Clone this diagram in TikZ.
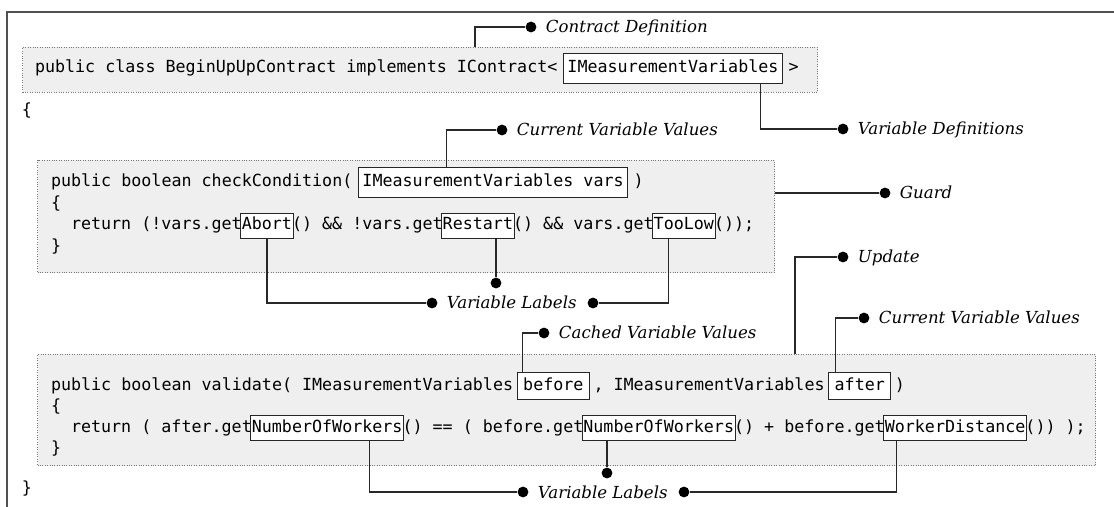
\documentclass[tikz,border=0pt]{standalone}
\usepackage{fontspec}
\usetikzlibrary{positioning}

\newfontfamily\codefam{DejaVu Sans Mono}
\newfontfamily\notefam{DejaVu Serif}

\definecolor{codebg}{RGB}{239,239,239}
\definecolor{codeline}{RGB}{120,120,120}
\definecolor{framecol}{RGB}{80,80,80}
\definecolor{leadcol}{RGB}{40,40,40}

\begin{document}
\begin{tikzpicture}[x=0.25mm, y=-0.25mm,
    codetext/.style={font=\codefam\fontsize{11.87}{14}\selectfont\frenchspacing,
      inner sep=0pt, outer sep=0pt, text height=3mm, text depth=1mm},
    codebox/.style={draw=codeline, densely dotted, line width=0.25mm, fill=codebg,
      anchor=north west, inner sep=0pt},
    pbox/.style={codetext, draw=black!85, solid, fill=white, line width=0.25mm,
      inner xsep=1mm, inner ysep=1.75mm},
    vbox/.style={pbox, inner xsep=1.5mm, inner ysep=1.25mm},
    gbox/.style={pbox, inner xsep=0.25mm, inner ysep=1.1mm},
    bullet/.style={circle, fill=black, inner sep=0pt, minimum size=2.7mm},
    tag/.style={font=\notefam\itshape\fontsize{11.8}{14}\selectfont,
      inner sep=0pt, text height=3mm, text depth=0mm, anchor=west},
    leader/.style={draw=leadcol, line width=0.3mm}]

  \useasboundingbox (0,0) rectangle (1114,507);
  \draw[framecol, line width=0.5mm] (7,507) -- (7,12) -- (1114,12);

  % code areas
  \node[codebox, minimum width=198.75mm, minimum height=11.25mm] (cls) at (22,47) {};
  \node[codebox, minimum width=184.25mm, minimum height=28mm] (grd) at (37,160) {};
  \node[codebox, minimum width=264.5mm, minimum height=27.75mm] (val) at (37,354) {};

  % class header
  \node[codetext, anchor=west] (c1) at (35,69) {public class BeginUpUpContract implements IContract<};
  \node[pbox, right=1.5125mm of c1] (imv) {IMeasurementVariables};
  \node[codetext, right=1.5125mm of imv] (c2) {>};
  \node[codetext, anchor=west] (ob) at (22,112) {\{};

  % guard
  \node[codetext, anchor=west] (g1) at (51,183) {public boolean checkCondition(};
  \node[pbox, right=1.5125mm of g1] (vars) {IMeasurementVariables vars};
  \node[codetext, right=1.5125mm of vars] (g2) {)};
  \node[codetext, anchor=west] (g3) at (51,204.5) {\{};
  \node[codetext, anchor=west] (g4) at (71,226) {return (!vars.get};
  \node[gbox, right=-0.25mm of g4] (abort) {Abort};
  \node[codetext, right=-0.25mm of abort] (g5) {() \&\& !vars.get};
  \node[gbox, right=-0.25mm of g5] (restart) {Restart};
  \node[codetext, right=-0.25mm of restart] (g6) {() \&\& vars.get};
  \node[gbox, right=-0.25mm of g6] (toolow) {TooLow};
  \node[codetext, right=-0.25mm of toolow] (g7) {());};
  \node[codetext, anchor=west] (g8) at (51,247.5) {\}};

  % update
  \node[codetext, anchor=west] (v1) at (51,386) {public boolean validate( IMeasurementVariables};
  \node[vbox, right=1.0125mm of v1] (before) {before};
  \node[codetext, right=1.0125mm of before] (v2) {, IMeasurementVariables};
  \node[vbox, right=1.0125mm of v2] (after) {after};
  \node[codetext, right=1.0125mm of after] (v3) {)};
  \node[codetext, anchor=west] (v4) at (51,407) {\{};
  \node[codetext, anchor=west] (v5) at (71,428) {return ( after.get};
  \node[gbox, right=-0.25mm of v5] (now1) {NumberOfWorkers};
  \node[codetext, right=-0.25mm of now1] (v6) {() == ( before.get};
  \node[gbox, right=-0.25mm of v6] (now2) {NumberOfWorkers};
  \node[codetext, right=-0.25mm of now2] (v7) {() + before.get};
  \node[gbox, right=-0.25mm of v7] (wd) {WorkerDistance};
  \node[codetext, right=-0.25mm of wd] (v8) {()) );};
  \node[codetext, anchor=west] (v9) at (51,449) {\}};
  \node[codetext, anchor=west] (cb) at (22,489) {\}};

  % annotations
  \node[bullet] (dCD) at (531,27) {};
  \node[tag, right=2.25mm of dCD] (tCD) {Contract Definition};
  \node[bullet] (dVD) at (843,129) {};
  \node[tag, right=2.25mm of dVD] (tVD) {Variable Definitions};
  \node[bullet] (dCVV) at (502,130) {};
  \node[tag, right=2.25mm of dCVV] (tCVV) {Current Variable Values};
  \node[bullet] (dG) at (885,193) {};
  \node[tag, right=2.25mm of dG] (tG) {Guard};
  \node[bullet] (dU) at (843,257) {};
  \node[tag, right=2.25mm of dU] (tU) {Update};
  \node[bullet] (dCV) at (544,333) {};
  \node[tag, right=2.25mm of dCV] (tCV) {Cached Variable Values};
  \node[bullet] (dCC) at (864,318) {};
  \node[tag, right=2.25mm of dCC] (tCC) {Current Variable Values};

  \node[bullet] (dL1) at (432,303) {};
  \node[tag, right=2.25mm of dL1] (tL1) {Variable Labels};
  \node[bullet, right=2.6mm of tL1] (dR1) {};
  \node[bullet] (dM1) at (496,283) {};

  \node[bullet] (dL2) at (523,492) {};
  \node[tag, right=2.25mm of dL2] (tL2) {Variable Labels};
  \node[bullet, right=2.6mm of tL2] (dR2) {};
  \node[bullet] (dM2) at (607,473) {};

  % connectors
  \draw[leader] (cls.north west) ++(453,0) |- (dCD);
  \draw[leader] (imv.south east) ++(-22,0) |- (dVD);
  \draw[leader] (vars.north west) ++(88,0) |- (dCVV);
  \draw[leader] (grd.east |- dG) -- (dG);
  \draw[leader] (abort.south) |- (dL1);
  \draw[leader] (dM1 |- restart.south) -- (dM1);
  \draw[leader] (toolow.south west) ++(16,0) |- (dR1);
  \draw[leader] (val.north west) ++(758,0) |- (dU);
  \draw[leader] (before.north west) ++(5,0) |- (dCV);
  \draw[leader] (after.north west) ++(7,0) |- (dCC);
  \draw[leader] (now1.south east) ++(-34,0) |- (dL2);
  \draw[leader] (dM2 |- now2.south) -- (dM2);
  \draw[leader] (wd.south west) ++(13,0) |- (dR2);

\end{tikzpicture}
\end{document}
